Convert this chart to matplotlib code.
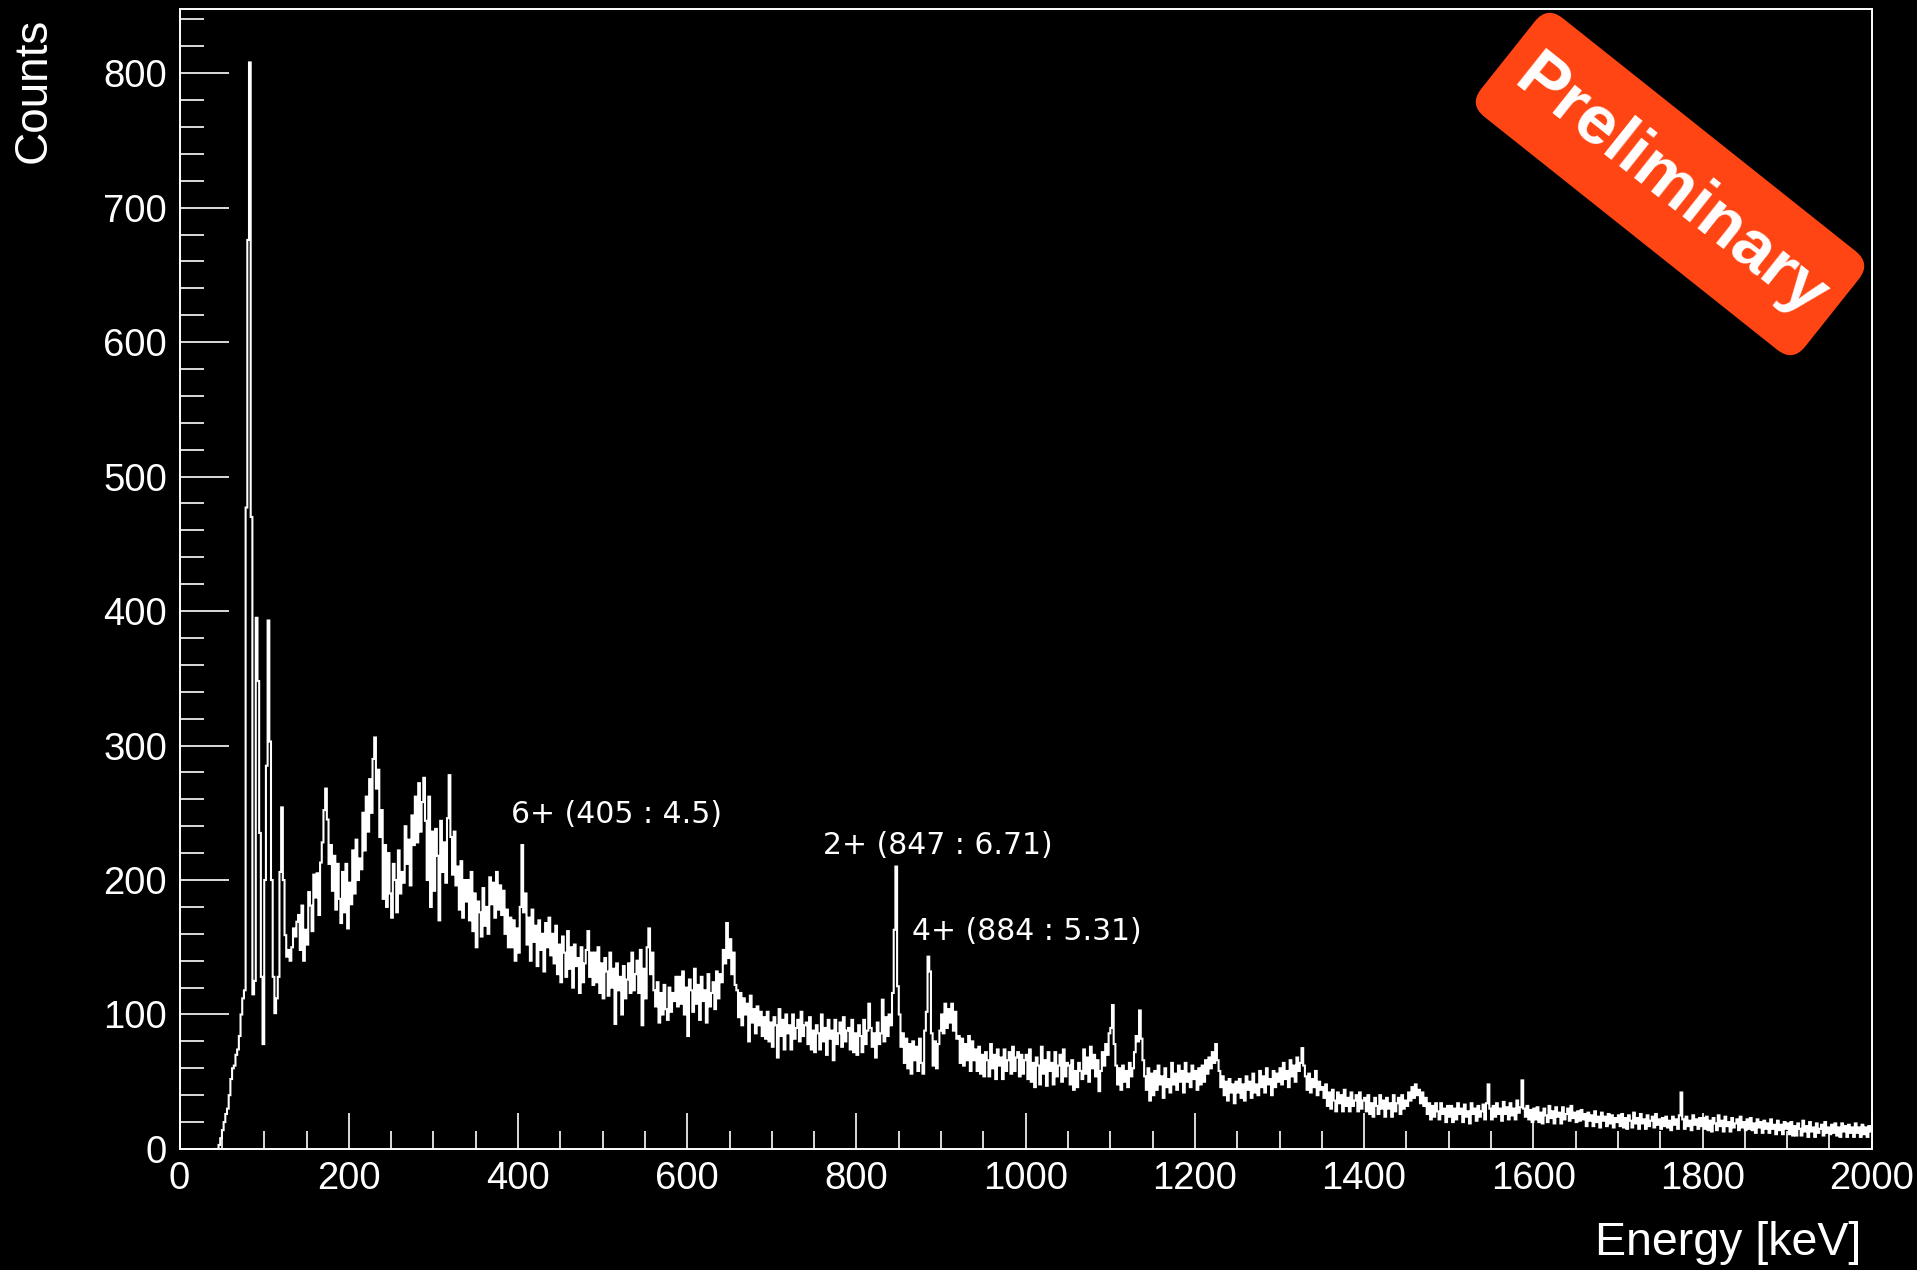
import numpy as np
import matplotlib
matplotlib.use("Agg")
import matplotlib.pyplot as plt
from matplotlib.ticker import MultipleLocator
from matplotlib.patches import FancyBboxPatch
from matplotlib.transforms import Affine2D

plt.rcParams['font.family'] = ['Liberation Sans', 'DejaVu Sans']

# gamma spectrum, counts per 2 keV bin starting at 40 keV
# 40-140 keV (low-energy X-ray lines)
counts_peaks = [
    0, 0, 0, 3, 8, 14, 20, 26, 30, 40, 52, 60, 62, 70, 74, 84, 100, 112, 118, 477, 676, 808, 470, 115, 125,
    395, 348, 235, 128, 78, 200, 285, 393, 303, 200, 128, 101, 112, 128, 206, 254, 200, 159, 143, 148, 140, 150, 164, 158, 169,
]

# 140-1000 keV
counts_mid = [
    174, 148, 181, 140, 163, 152, 191, 181, 162, 204, 187, 205, 174, 213, 228, 252, 268, 245, 212, 226, 192, 218, 178, 212, 186,
    168, 206, 176, 212, 164, 198, 182, 222, 190, 230, 200, 216, 208, 250, 222, 262, 236, 275, 250, 290, 306, 268, 282, 232, 252,
    186, 226, 180, 220, 190, 172, 212, 200, 176, 222, 190, 206, 198, 240, 212, 230, 196, 248, 226, 262, 228, 272, 236, 258, 276,
    244, 200, 262, 180, 236, 192, 238, 218, 170, 244, 206, 228, 198, 246, 278, 232, 204, 236, 196, 210, 178, 214, 172, 200, 184,
    200, 170, 206, 162, 190, 150, 184, 176, 158, 194, 166, 180, 160, 202, 182, 198, 172, 206, 178, 196, 174, 192, 160, 178, 150,
    172, 150, 170, 140, 164, 146, 180, 226, 176, 190, 152, 172, 140, 178, 154, 166, 136, 170, 148, 160, 132, 168, 150, 172, 144,
    160, 138, 166, 130, 152, 124, 158, 146, 128, 162, 134, 150, 120, 152, 136, 142, 116, 150, 124, 138, 148, 162, 128, 146, 122,
    146, 124, 150, 116, 138, 112, 142, 132, 114, 146, 120, 134, 93, 138, 118, 128, 100, 136, 112, 126, 138, 116, 146, 118, 130,
    140, 116, 148, 92, 134, 112, 150, 164, 130, 146, 118, 106, 124, 94, 116, 100, 122, 104, 96, 120, 102, 116, 110, 128, 106,
    128, 108, 132, 100, 120, 84, 126, 118, 102, 134, 108, 122, 96, 128, 110, 118, 94, 130, 106, 116, 124, 104, 132, 112, 130,
    124, 148, 138, 168, 142, 156, 130, 146, 122, 118, 98, 116, 92, 112, 100, 108, 80, 114, 94, 104, 86, 106, 92, 102, 84,
    98, 82, 102, 80, 94, 76, 98, 92, 68, 104, 84, 96, 74, 100, 86, 92, 74, 100, 82, 90, 96, 80, 102, 84, 92,
    94, 78, 98, 74, 88, 72, 92, 86, 74, 100, 80, 90, 70, 96, 82, 88, 66, 96, 78, 86, 94, 76, 98, 80, 88,
    90, 74, 96, 72, 86, 70, 92, 84, 72, 96, 78, 88, 108, 90, 76, 86, 68, 94, 78, 86, 111, 80, 98, 84, 100,
    92, 116, 163, 210, 121, 100, 76, 86, 64, 82, 60, 78, 56, 80, 66, 76, 58, 82, 64, 56, 88, 102, 143, 132, 86,
    62, 80, 60, 78, 88, 100, 86, 108, 90, 104, 94, 108, 88, 102, 82, 84, 64, 82, 62, 78, 66, 84, 58, 80, 66,
    74, 58, 76, 56, 70, 54, 72, 66, 54, 78, 60, 70, 52, 74, 62, 68, 52, 74, 58, 66, 72, 56, 76, 58, 68,
    72, 54, 70, 56, 66,
]

# 1000-2000 keV
counts_tail = [
    70, 52, 74, 50, 64, 46, 68, 62, 48, 76, 56, 66, 47, 72, 58, 64, 48, 72, 54, 62, 70, 50, 74, 54, 64,
    62, 48, 66, 44, 58, 46, 64, 58, 52, 74, 56, 68, 50, 76, 60, 70, 54, 66, 43, 58, 72, 62, 78, 70, 86,
    90, 107, 78, 62, 48, 60, 44, 62, 50, 58, 46, 64, 54, 60, 72, 84, 80, 103, 82, 66, 54, 44, 60, 36, 56,
    40, 58, 44, 62, 48, 54, 38, 60, 46, 52, 42, 64, 48, 56, 44, 62, 50, 58, 42, 64, 50, 56, 46, 62, 52,
    58, 44, 60, 48, 62, 50, 66, 56, 68, 60, 72, 64, 78, 66, 58, 46, 54, 40, 50, 36, 52, 42, 48, 34, 50,
    42, 52, 38, 48, 36, 54, 44, 50, 38, 56, 42, 48, 40, 58, 46, 54, 42, 60, 48, 52, 40, 58, 46, 56, 50,
    60, 48, 64, 52, 58, 46, 66, 54, 62, 50, 68, 58, 64, 75, 62, 54, 44, 56, 42, 52, 46, 58, 40, 50, 44,
    46, 38, 48, 32, 42, 30, 44, 36, 28, 42, 34, 40, 28, 44, 32, 38, 28, 42, 32, 36, 40, 28, 42, 30, 36,
    38, 28, 40, 26, 34, 24, 38, 32, 26, 40, 30, 36, 24, 38, 30, 34, 24, 40, 28, 34, 38, 26, 40, 30, 36,
    32, 42, 36, 46, 38, 48, 40, 44, 34, 42, 32, 38, 26, 34, 22, 32, 24, 34, 28, 22, 34, 26, 30, 20, 32,
    24, 32, 20, 30, 22, 34, 26, 30, 20, 33, 24, 28, 19, 34, 26, 30, 21, 32, 24, 28, 33, 22, 34, 48, 30,
    22, 32, 24, 34, 26, 30, 21, 35, 26, 31, 22, 34, 25, 30, 22, 36, 27, 31, 51, 30, 24, 32, 22, 29, 20,
    30, 22, 31, 20, 27, 19, 30, 25, 20, 32, 23, 28, 19, 31, 24, 27, 19, 31, 22, 26, 30, 21, 32, 23, 27,
    20, 28, 21, 29, 22, 26, 17, 27, 21, 25, 17, 28, 20, 24, 16, 27, 21, 24, 17, 26, 19, 25, 16, 23, 20,
    25, 17, 26, 16, 23, 15, 25, 21, 16, 27, 19, 23, 15, 26, 19, 22, 15, 25, 17, 21, 24, 16, 26, 18, 22,
    15, 23, 17, 24, 16, 21, 14, 24, 18, 22, 15, 25, 42, 22, 15, 24, 17, 21, 14, 25, 18, 22, 15, 23, 17,
    23, 15, 24, 14, 21, 13, 23, 19, 14, 25, 17, 21, 13, 24, 17, 20, 13, 23, 16, 19, 22, 14, 24, 16, 20,
    14, 22, 15, 23, 14, 19, 12, 22, 16, 20, 12, 21, 15, 19, 12, 22, 15, 18, 11, 21, 14, 18, 11, 20, 15,
    19, 11, 20, 10, 17, 10, 19, 15, 10, 21, 13, 17, 9, 20, 13, 16, 9, 19, 12, 15, 18, 10, 20, 12, 16,
    11, 18, 12, 19, 10, 16, 9, 19, 13, 17, 9, 18, 12, 16, 9, 19, 12, 16, 9, 18, 11, 16, 9, 17, 13,
]

# peak labels: text, x [keV], y [counts]
peak_labels = ["6+ (405 : 4.5)", "2+ (847 : 6.71)", "4+ (884 : 5.31)"]
peak_label_x = [392, 760, 866]
peak_label_y = [249, 226, 162]

counts = np.array(counts_peaks + counts_mid + counts_tail, dtype=float)
edges = np.arange(40, 2001, 2)

fig = plt.figure(figsize=(19.17, 12.70), dpi=100, facecolor='black')
ax = fig.add_axes([0.0937, 0.0953, 0.8827, 0.8979], facecolor='black')

ax.stairs(counts, edges, baseline=None, color='white', linewidth=1.5)

ax.set_xlim(0, 2000)
ax.set_ylim(0, 848)

for side in ax.spines.values():
    side.set_color('white')
    side.set_linewidth(1.4)

ax.xaxis.set_major_locator(MultipleLocator(200))
ax.xaxis.set_minor_locator(MultipleLocator(50))
ax.yaxis.set_major_locator(MultipleLocator(100))
ax.yaxis.set_minor_locator(MultipleLocator(20))

ax.tick_params(axis='both', which='both', direction='in', colors='white',
               labelcolor='white', width=1.2, labelsize=27.5)
ax.tick_params(axis='x', which='major', length=26, pad=9)
ax.tick_params(axis='x', which='minor', length=13)
ax.tick_params(axis='y', which='major', length=35, pad=9)
ax.tick_params(axis='y', which='minor', length=17)

fig.text(0.0175, 0.9858, 'Counts', rotation=90, ha='center', va='top',
         color='white', fontsize=33)
fig.text(0.9708, 0.0213, 'Energy [keV]', ha='right', va='center',
         color='white', fontsize=33.5)

for txt, px, py in zip(peak_labels, peak_label_x, peak_label_y):
    ax.text(px, py, txt, color='white', fontsize=21.5, family='DejaVu Sans',
            ha='left', va='center')

# rotated "Preliminary" stamp (sizes in inches)
cx, cy = 16.70, 10.86
bw, bh = 4.14, 1.26
stamp = FancyBboxPatch((cx - bw / 2, cy - bh / 2), bw, bh,
                       boxstyle='round,pad=0,rounding_size=0.2',
                       fc='#ff4513', ec='none',
                       transform=Affine2D().rotate_deg_around(cx, cy, -38.5) + fig.dpi_scale_trans)
fig.add_artist(stamp)
fig.text(cx / 19.17, (cy - 0.04) / 12.70, 'Preliminary', rotation=-38.5, rotation_mode='anchor',
         ha='center', va='center', color='white', fontsize=50, fontweight='bold')

fig.savefig('out.png', dpi=100, facecolor='black')
